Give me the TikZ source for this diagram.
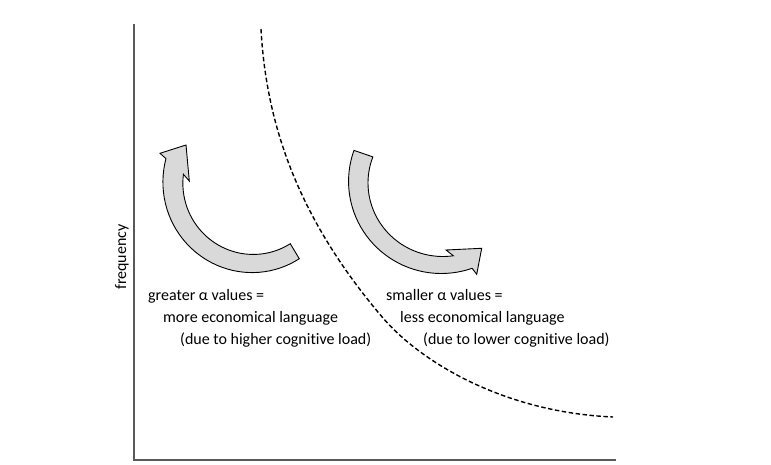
\documentclass[tikz,border=0pt]{standalone}
\usepackage{amsmath}
\usepackage{fontspec}
\setmainfont{Carlito}[Ligatures=CommonOff]
\usepackage{tikz}
\usetikzlibrary{calc,positioning}

\begin{document}
\begin{tikzpicture}[x=1pt,y=-1pt,
	axis/.style={draw=black!65,line width=2pt},
	bentarrow/.style={draw=black,line width=0.9pt,fill=black!15,line join=miter},
	curvedash/.style={line width=1.4pt,dash pattern=on 4.5pt off 2.5pt},
	lbl/.style={anchor=base west,inner sep=0pt,font=\fontsize{16}{22}\selectfont}]
	\useasboundingbox (0,0) rectangle (771,465);
	
	% axes
	\coordinate (top) at (134,24); \coordinate (origin) at (134,460); \coordinate (right) at (616,460);
	\draw[axis] (top) -- (origin) -- (right);
	\node[font=\fontsize{16}{22}\selectfont,rotate=90] (freq) at (122,257) {frequency};
	
	% dashed curve
	\draw[curvedash] (261,29) .. controls (266,120) and (295,215) .. (383,318)
		.. controls (418.2,359.2) and (500,412) .. (613,417);
	
	% left arrow (up), centre (255,185)
	\draw[bentarrow] plot[domain=59:196.5,samples=40] ({255+(86+(\x-59)*0.05)*cos(\x)},{185+(86+(\x-59)*0.05)*sin(\x)})
		-- (160,153.3) -- (186,145) -- (189.3,181)
		-- plot[domain=188.5:59,samples=40] ({255+(68.5+(\x-59)*0.03)*cos(\x)},{185+(68.5+(\x-59)*0.03)*sin(\x)}) -- cycle;
	
	% right arrow (down), centre (440,180)
	\draw[bentarrow] plot[domain=199:70,samples=40] ({440+(91+(199-\x)*0.023)*cos(\x)},{180+(91+(199-\x)*0.023)*sin(\x)})
		-- (476.7,274.3) -- (481.7,248.3) -- (446,250)
		-- plot[domain=80:199,samples=40] ({440+(71+(199-\x)*0.05)*cos(\x)},{180+(71+(199-\x)*0.05)*sin(\x)}) -- cycle;
	
	% labels
	\node[lbl] (gtA) at (148,300) {greater α values =};
	\node[lbl] (gtB) at (163,322) {more economical language};
	\node[lbl] (gtC) at (180,344) {(due to higher cognitive load)};
	
	\node[lbl] (smA) at (386,300) {smaller α values =};
	\node[lbl] (smB) at (400,322) {less economical language};
	\node[lbl] (smC) at (423,344) {(due to lower cognitive load)};
\end{tikzpicture}
\end{document}
